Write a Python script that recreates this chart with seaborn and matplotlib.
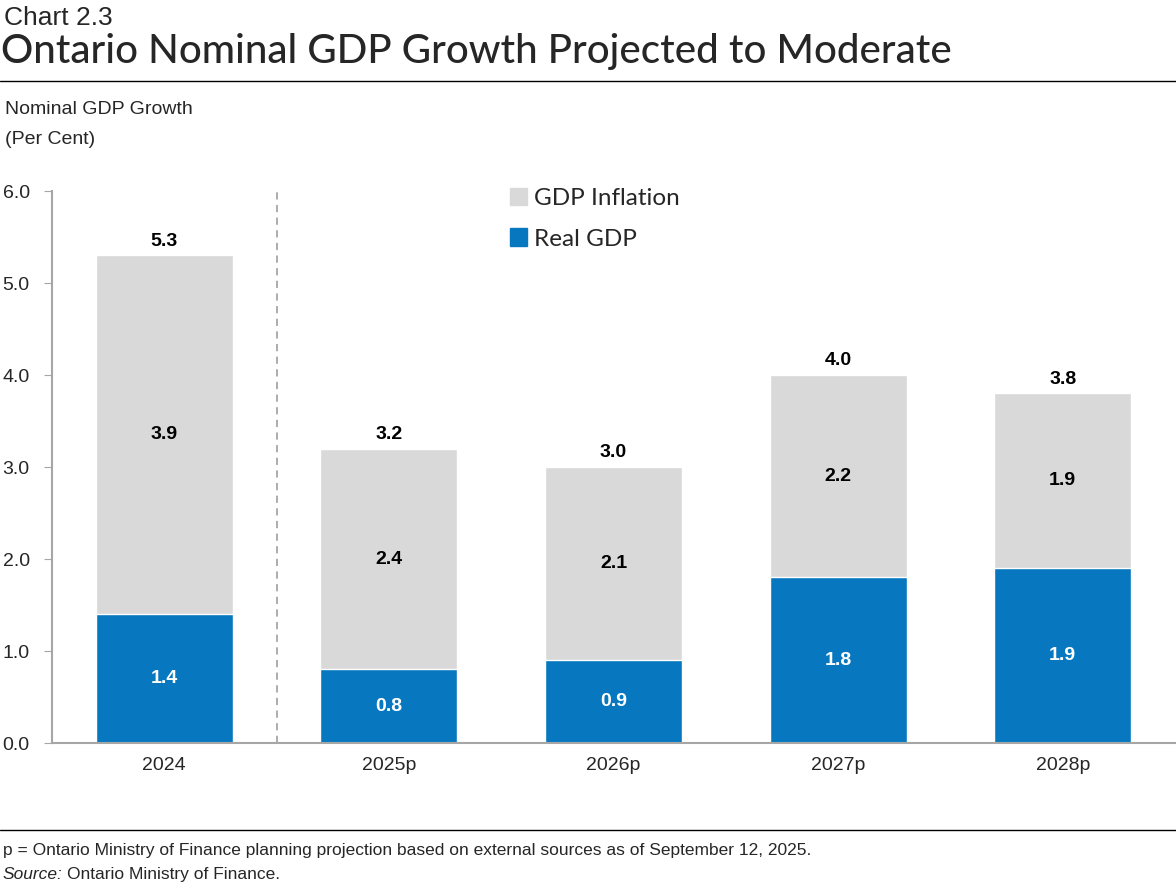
import matplotlib
matplotlib.use("Agg")
import matplotlib.pyplot as plt
import seaborn as sns
import pandas as pd
from matplotlib.patches import Patch

years = ["2024", "2025p", "2026p", "2027p", "2028p"]
real_gdp = [1.4, 0.8, 0.9, 1.8, 1.9]
gdp_inflation = [3.9, 2.4, 2.1, 2.2, 1.9]
y_ticks = [0.0, 1.0, 2.0, 3.0, 4.0, 5.0, 6.0]

BLUE = "#0778C0"
GREY = "#D9D9D9"
AXIS = "#A6A6A6"
NARROW = ["Liberation Sans Narrow", "Liberation Sans", "DejaVu Sans"]
HEAD = ["Lato", "DejaVu Sans"]

df = pd.DataFrame({"year": years, "real": real_gdp, "infl": gdp_inflation})
df["total"] = df["real"] + df["infl"]

sns.set_style("white")
plt.rcParams["font.family"] = NARROW

fig = plt.figure(figsize=(11.76, 8.88), dpi=100)
ax = fig.add_axes([52 / 1176, 1 - 743 / 888, 1123 / 1176, 552 / 888])

# grey total first, blue real GDP on top gives a stacked look
sns.barplot(data=df, x="year", y="total", color=GREY, width=0.61,
            saturation=1, ax=ax)
sns.barplot(data=df, x="year", y="real", color=BLUE, width=0.61,
            saturation=1, ax=ax)

for i, row in df.iterrows():
    ax.text(i, row["total"] + 0.06, f"{row['total']:.1f}", ha="center",
            va="bottom", fontsize=14, fontweight="bold", color="black")
    ax.text(i, row["real"] + row["infl"] / 2, f"{row['infl']:.1f}",
            ha="center", va="center", fontsize=14, fontweight="bold",
            color="black")
    ax.text(i, row["real"] / 2, f"{row['real']:.1f}", ha="center",
            va="center", fontsize=14, fontweight="bold", color="white")

ax.axvline(0.5, color=AXIS, linestyle=(0, (4, 3)), linewidth=1.3)

ax.set_xlim(-0.5, 4.5)
ax.set_ylim(0, 6)
ax.set_yticks(y_ticks)
ax.set_yticklabels([f"{t:.1f}" for t in y_ticks])
ax.set_xlabel("")
ax.set_ylabel("")
ax.tick_params(axis="y", labelsize=14, length=6, color=AXIS, pad=10,
               left=True)
ax.tick_params(axis="x", labelsize=14, length=0, pad=10)
for s in ["top", "right"]:
    ax.spines[s].set_visible(False)
for s in ["left", "bottom"]:
    ax.spines[s].set_color(AXIS)
    ax.spines[s].set_linewidth(1.5)

handles = [Patch(color=GREY, label="GDP Inflation"),
           Patch(color=BLUE, label="Real GDP")]
ax.legend(handles=handles, loc="upper left",
          bbox_to_anchor=(0.388, 1.045), frameon=False,
          handlelength=0.7, handleheight=0.7, handletextpad=0.3,
          labelspacing=0.8, prop={"family": HEAD, "size": 17.5})

fig.text(4 / 1176, 1 - 18 / 888, "Chart 2.3", fontsize=19, family=NARROW,
         va="center")
fig.text(1 / 1176, 1 - 52 / 888, "Ontario Nominal GDP Growth Projected to Moderate",
         fontsize=29, family=HEAD, fontweight="medium", va="center")
fig.add_artist(plt.Line2D([0, 1], [1 - 81 / 888] * 2, color="black",
                          linewidth=1, transform=fig.transFigure))
fig.text(5 / 1176, 1 - 110 / 888, "Nominal GDP Growth", fontsize=14,
         va="center")
fig.text(5 / 1176, 1 - 140 / 888, "(Per Cent)", fontsize=14, va="center")

fig.add_artist(plt.Line2D([0, 1], [1 - 830 / 888] * 2, color="black",
                          linewidth=1, transform=fig.transFigure))
fig.text(3 / 1176, 1 - 850 / 888,
         "p = Ontario Ministry of Finance planning projection based on external sources as of September 12, 2025.",
         fontsize=12.5, va="center")
src = fig.text(3 / 1176, 1 - 874 / 888, "Source:", fontsize=12.5,
               va="center", style="italic")
# put the rest of the source line right after the italic word
renderer = fig.canvas.get_renderer()
bb = src.get_window_extent(renderer=renderer)
fig.text((bb.x1 + 4) / 1176, 1 - 874 / 888, "Ontario Ministry of Finance.",
         fontsize=12.5, va="center")

fig.savefig("out.png", dpi=100)
